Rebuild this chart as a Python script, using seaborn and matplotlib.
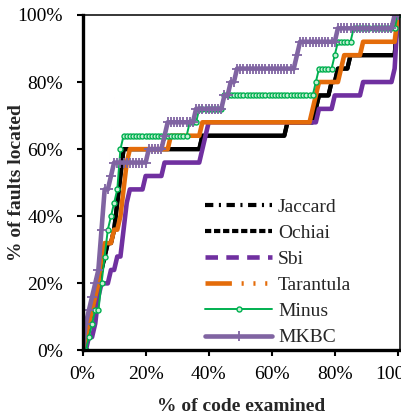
import matplotlib
matplotlib.use("Agg")
import matplotlib.pyplot as plt
import seaborn as sns
import pandas as pd
from matplotlib.lines import Line2D
from matplotlib.ticker import FuncFormatter, MultipleLocator

# -----------------------------
# Data: faults located (out of 25) at each 1% of code examined
# -----------------------------
code_pct = list(range(0, 101))
total_faults = 25

ochiai = [0, 1, 2, 3, 4, 5, 6, 7, 8, 8,
          9, 11, 13, 15, 15, 15, 15, 15, 15, 15,
          15, 15, 15, 15, 15, 15, 15, 15, 15, 15,
          15, 15, 15, 15, 15, 15, 15, 15, 16, 16,
          16, 16, 16, 16, 16, 16, 16, 16, 16, 16,
          16, 16, 16, 16, 16, 16, 16, 16, 16, 16,
          16, 16, 16, 16, 16, 17, 17, 17, 17, 17,
          17, 17, 17, 17, 18, 19, 19, 19, 19, 20,
          20, 21, 21, 21, 21, 22, 22, 22, 22, 22,
          22, 22, 22, 22, 22, 22, 22, 22, 22, 22,
          25]
# Jaccard gives the same ranking here: its curve sits under Ochiai
jaccard = [0, 1, 2, 3, 4, 5, 6, 7, 8, 8,
           9, 11, 13, 15, 15, 15, 15, 15, 15, 15,
           15, 15, 15, 15, 15, 15, 15, 15, 15, 15,
           15, 15, 15, 15, 15, 15, 15, 15, 16, 16,
           16, 16, 16, 16, 16, 16, 16, 16, 16, 16,
           16, 16, 16, 16, 16, 16, 16, 16, 16, 16,
           16, 16, 16, 16, 16, 17, 17, 17, 17, 17,
           17, 17, 17, 17, 18, 19, 19, 19, 19, 20,
           20, 21, 21, 21, 21, 22, 22, 22, 22, 22,
           22, 22, 22, 22, 22, 22, 22, 22, 22, 22,
           25]
sbi = [0, 0, 1, 1, 2, 4, 5, 5, 5, 6,
       6, 7, 7, 9, 11, 12, 12, 12, 12, 12,
       13, 13, 13, 13, 13, 13, 14, 14, 14, 14,
       14, 14, 14, 14, 14, 14, 14, 14, 15, 16,
       17, 17, 17, 17, 17, 17, 17, 17, 17, 17,
       17, 17, 17, 17, 17, 17, 17, 17, 17, 17,
       17, 17, 17, 17, 17, 17, 17, 17, 17, 17,
       17, 17, 17, 17, 17, 18, 18, 18, 18, 18,
       19, 19, 19, 19, 19, 19, 19, 19, 19, 20,
       20, 20, 20, 20, 20, 20, 20, 20, 20, 21,
       25]
tarantula = [0, 1, 2, 3, 4, 5, 7, 8, 8, 8,
             9, 9, 10, 12, 14, 15, 15, 15, 15, 15,
             15, 15, 15, 15, 15, 15, 15, 15, 16, 16,
             16, 16, 16, 16, 16, 16, 16, 16, 17, 17,
             17, 17, 17, 17, 17, 17, 17, 17, 17, 17,
             17, 17, 17, 17, 17, 17, 17, 17, 17, 17,
             17, 17, 17, 17, 17, 17, 17, 17, 17, 17,
             17, 17, 17, 18, 19, 20, 20, 20, 20, 20,
             20, 20, 21, 22, 22, 22, 22, 22, 22, 23,
             23, 23, 23, 23, 23, 23, 23, 23, 23, 23,
             25]
minus = [0, 0, 1, 2, 3, 3, 5, 7, 9, 10,
         11, 12, 15, 16, 16, 16, 16, 16, 16, 16,
         16, 16, 16, 16, 16, 16, 16, 16, 16, 16,
         16, 16, 16, 16, 17, 17, 17, 18, 18, 18,
         18, 18, 18, 18, 18, 19, 19, 19, 19, 19,
         19, 19, 19, 19, 19, 19, 19, 19, 19, 19,
         19, 19, 19, 19, 19, 19, 19, 19, 19, 19,
         19, 19, 19, 19, 20, 21, 21, 21, 21, 21,
         22, 23, 23, 23, 23, 23, 24, 24, 24, 24,
         24, 24, 24, 24, 24, 24, 24, 24, 24, 24,
         25]
mkbc = [0, 2, 3, 4, 5, 6, 9, 12, 12, 13,
        14, 14, 14, 14, 14, 14, 14, 14, 14, 14,
        14, 15, 15, 15, 15, 15, 16, 17, 17, 17,
        17, 17, 17, 17, 17, 17, 18, 18, 18, 18,
        18, 18, 18, 18, 18, 19, 19, 20, 20, 21,
        21, 21, 21, 21, 21, 21, 21, 21, 21, 21,
        21, 21, 21, 21, 21, 21, 21, 21, 22, 23,
        23, 23, 23, 23, 23, 23, 23, 23, 23, 23,
        23, 24, 24, 24, 24, 24, 24, 24, 24, 24,
        24, 24, 24, 24, 24, 24, 24, 24, 24, 25,
        25]

series = {"Jaccard": jaccard, "Ochiai": ochiai, "Sbi": sbi,
          "Tarantula": tarantula, "Minus": minus, "MKBC": mkbc}

# -----------------------------
# Styles
# -----------------------------
BLACK = "#000000"
PURPLE = "#7030A0"
ORANGE = "#E46C0A"
GREEN = "#00B050"
LAVENDER = "#8064A2"

plot_style = {
    "Jaccard": dict(color=BLACK, lw=3.0),
    "Ochiai": dict(color=BLACK, lw=3.0),
    "Sbi": dict(color=PURPLE, lw=3.3),
    "Tarantula": dict(color=ORANGE, lw=3.3),
    "Minus": dict(color=GREEN, lw=1.4, marker="o", markersize=3.6,
                  markerfacecolor="#c8f0d6", markeredgecolor=GREEN, markeredgewidth=1.0),
    "MKBC": dict(color=LAVENDER, lw=3.3, marker="+", markersize=6.5,
                 markeredgecolor=LAVENDER, markeredgewidth=1.3),
}

legend_dash = {
    "Jaccard": (0, (6, 4, 1.5, 4)),
    "Ochiai": (0, (4.5, 2)),
    "Sbi": (0, (9, 6)),
    "Tarantula": (0, (19, 7, 1.5, 7, 1.5, 7, 1.5, 7)),
    "Minus": "-",
    "MKBC": "-",
}

# -----------------------------
# Plot
# -----------------------------
sns.set_theme(style="white")
plt.rcParams["font.family"] = ["Liberation Serif", "DejaVu Serif"]
plt.rcParams["lines.scale_dashes"] = False

rows = []
for name, vals in series.items():
    for x, k in zip(code_pct, vals):
        rows.append({"technique": name, "code": x, "located": 100.0 * k / total_faults})
df = pd.DataFrame(rows)

fig = plt.figure(figsize=(4.01, 4.20), dpi=100)
ax = fig.add_axes([0.206, 0.1655, 0.7915, 0.799])

for name in series:
    sub = df[df["technique"] == name]
    sns.lineplot(data=sub, x="code", y="located", ax=ax, legend=False,
                 solid_capstyle="butt", **plot_style[name])

ax.set_xlim(0, 100.7)
ax.set_ylim(0, 100)
ax.xaxis.set_major_locator(MultipleLocator(20))
ax.yaxis.set_major_locator(MultipleLocator(20))
pct_fmt = FuncFormatter(lambda v, _: f"{v:.0f}%")
ax.xaxis.set_major_formatter(pct_fmt)
ax.yaxis.set_major_formatter(pct_fmt)
ax.tick_params(axis="both", which="major", direction="out", length=4,
               width=1.5, labelsize=14, colors="black")
ax.tick_params(axis="y", pad=10)
ax.tick_params(axis="x", pad=7)
ax.tick_params(left=True, bottom=True)

for side in ["left", "bottom"]:
    ax.spines[side].set_linewidth(2.4)
    ax.spines[side].set_color("black")
for side in ["top", "right"]:
    ax.spines[side].set_linewidth(1.1)
    ax.spines[side].set_color("black")

ax.set_xlabel("% of code examined", fontsize=14, fontweight="bold")
ax.set_ylabel("% of faults located", fontsize=14, fontweight="bold")
ax.xaxis.set_label_coords(0.5, -0.142)
ax.yaxis.set_label_coords(-0.182, 0.5)

handles = []
for name in series:
    st = plot_style[name]
    h = Line2D([0], [0], color=st["color"], lw=st["lw"], linestyle=legend_dash[name],
               marker=st.get("marker"), markersize=st.get("markersize", 0),
               markerfacecolor=st.get("markerfacecolor", st["color"]),
               markeredgecolor=st.get("markeredgecolor", st["color"]),
               markeredgewidth=st.get("markeredgewidth", 1.0),
               dash_capstyle="butt")
    handles.append(h)

fig.legend(handles=handles, labels=list(series.keys()), loc="upper left",
           bbox_to_anchor=(205 / 401, 1 - 198 / 420), frameon=False,
           fontsize=14, borderpad=0, borderaxespad=0, handlelength=3.45,
           handletextpad=0.3, labelspacing=0.44, numpoints=1)

fig.savefig("out.png", dpi=100)
